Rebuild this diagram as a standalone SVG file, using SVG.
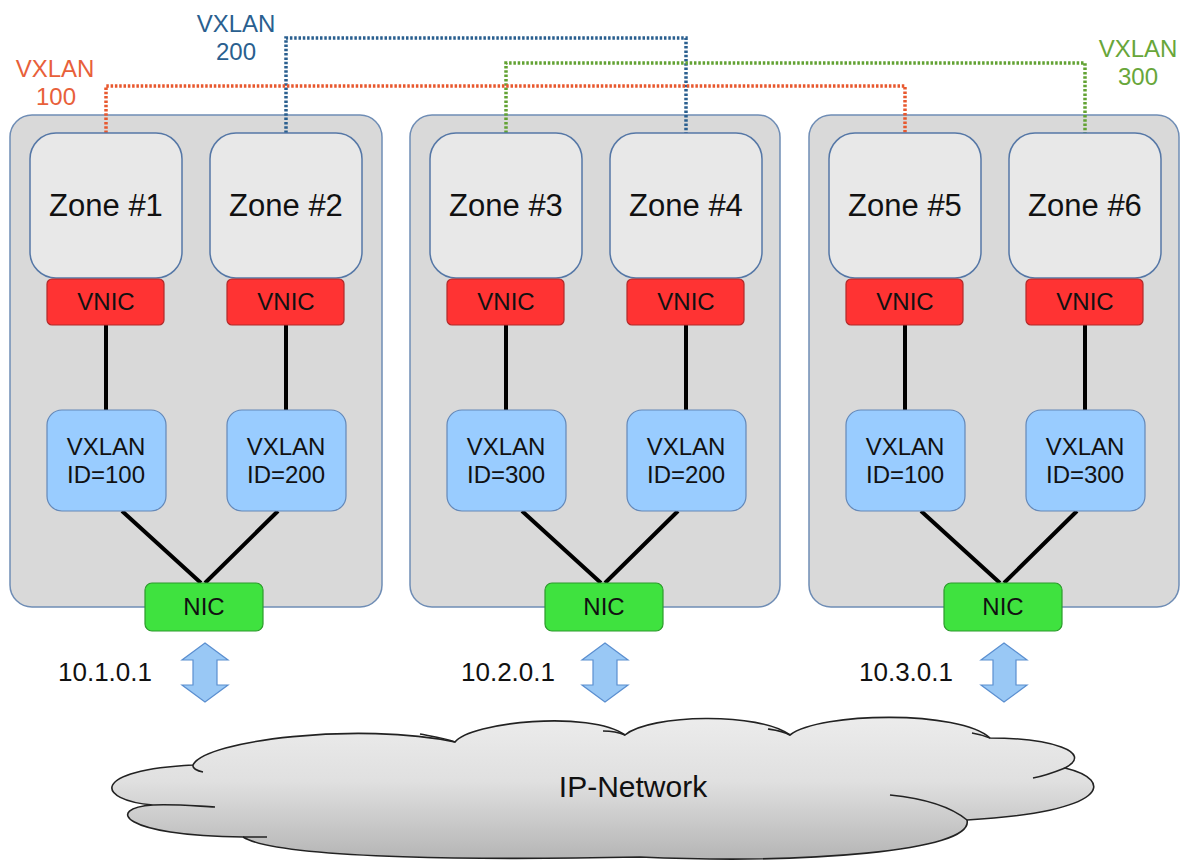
<svg xmlns="http://www.w3.org/2000/svg" width="1185" height="862" viewBox="0 0 1185 862">
<style>
text{font-family:"Liberation Sans",Arial,sans-serif;fill:#111;text-anchor:middle}
.host{fill:#d9d9d9;stroke:#6f8db5;stroke-width:1.5}
.zone{fill:#e8e8e8;stroke:#5577a6;stroke-width:1.5}
.vnic{fill:#ff3333;stroke:#b02a2a;stroke-width:1.2}
.vx{fill:#99ccff;stroke:#6488b8;stroke-width:1.2}
.nic{fill:#3fe23f;stroke:#2c9a2c;stroke-width:1.2}
.arr{fill:#99c8f5;stroke:#5b8fd0;stroke-width:1.2}
.wire{stroke:#000;stroke-width:4;fill:none}
.dot{fill:none;stroke-width:3.5;stroke-dasharray:2.5 1.8}
.zt{font-size:31px}
.bt{font-size:24px}
.ip{font-size:26px;text-anchor:start}
</style>
<defs>
<linearGradient id="cg" x1="0" y1="0" x2="0" y2="1">
<stop offset="0" stop-color="#ececec"/>
<stop offset="0.45" stop-color="#e0e0e0"/>
<stop offset="1" stop-color="#b5b5b5"/>
</linearGradient>
</defs>

<g id="host1">
<rect class="host" x="10" y="115" width="372" height="492" rx="22"/>
</g>
<g id="host2">
<rect class="host" x="410" y="115" width="370" height="492" rx="22"/>
</g>
<g id="host3">
<rect class="host" x="809" y="115" width="370" height="492" rx="22"/>
</g>

<g id="connectors">
<path class="wire" d="M106,325V410M286,325V410M506,325V410M686,325V410M905,325V410M1085,325V410"/>
<path class="wire" d="M122,511L201,583M278,511L205,583M522,511L601,583M678,511L605,583M921,511L1000,583M1077,511L1004,583"/>
<path class="dot" stroke="#2a5f8f" d="M286,133V38H686V133"/>
<path class="dot" stroke="#62a233" d="M506,133V63H1085V133"/>
<path class="dot" stroke="#e8582e" d="M106,133V86H905V133"/>
</g>

<g id="zone1"><rect class="zone" x="30" y="133" width="152" height="145" rx="26"/><text class="zt" x="106" y="216">Zone #1</text></g>
<g id="zone2"><rect class="zone" x="210" y="133" width="152" height="145" rx="26"/><text class="zt" x="286" y="216">Zone #2</text></g>
<g id="zone3"><rect class="zone" x="430" y="133" width="152" height="145" rx="26"/><text class="zt" x="506" y="216">Zone #3</text></g>
<g id="zone4"><rect class="zone" x="610" y="133" width="152" height="145" rx="26"/><text class="zt" x="686" y="216">Zone #4</text></g>
<g id="zone5"><rect class="zone" x="829" y="133" width="152" height="145" rx="26"/><text class="zt" x="905" y="216">Zone #5</text></g>
<g id="zone6"><rect class="zone" x="1009" y="133" width="152" height="145" rx="26"/><text class="zt" x="1085" y="216">Zone #6</text></g>

<g id="vnic1"><rect class="vnic" x="47" y="279" width="117" height="46" rx="5"/><text class="bt" x="106" y="310">VNIC</text></g>
<g id="vnic2"><rect class="vnic" x="227" y="279" width="117" height="46" rx="5"/><text class="bt" x="286" y="310">VNIC</text></g>
<g id="vnic3"><rect class="vnic" x="447" y="279" width="117" height="46" rx="5"/><text class="bt" x="506" y="310">VNIC</text></g>
<g id="vnic4"><rect class="vnic" x="627" y="279" width="117" height="46" rx="5"/><text class="bt" x="686" y="310">VNIC</text></g>
<g id="vnic5"><rect class="vnic" x="846" y="279" width="117" height="46" rx="5"/><text class="bt" x="905" y="310">VNIC</text></g>
<g id="vnic6"><rect class="vnic" x="1026" y="279" width="117" height="46" rx="5"/><text class="bt" x="1085" y="310">VNIC</text></g>

<g id="vx1"><rect class="vx" x="47" y="410" width="119" height="101" rx="15"/><text class="bt" x="106" y="455">VXLAN</text><text class="bt" x="106" y="483">ID=100</text></g>
<g id="vx2"><rect class="vx" x="227" y="410" width="119" height="101" rx="15"/><text class="bt" x="286" y="455">VXLAN</text><text class="bt" x="286" y="483">ID=200</text></g>
<g id="vx3"><rect class="vx" x="447" y="410" width="119" height="101" rx="15"/><text class="bt" x="506" y="455">VXLAN</text><text class="bt" x="506" y="483">ID=300</text></g>
<g id="vx4"><rect class="vx" x="627" y="410" width="119" height="101" rx="15"/><text class="bt" x="686" y="455">VXLAN</text><text class="bt" x="686" y="483">ID=200</text></g>
<g id="vx5"><rect class="vx" x="846" y="410" width="119" height="101" rx="15"/><text class="bt" x="905" y="455">VXLAN</text><text class="bt" x="905" y="483">ID=100</text></g>
<g id="vx6"><rect class="vx" x="1026" y="410" width="119" height="101" rx="15"/><text class="bt" x="1085" y="455">VXLAN</text><text class="bt" x="1085" y="483">ID=300</text></g>

<g id="nic1"><rect class="nic" x="145" y="583" width="118" height="48" rx="7"/><text class="bt" x="204" y="615">NIC</text></g>
<g id="nic2"><rect class="nic" x="545" y="583" width="118" height="48" rx="7"/><text class="bt" x="604" y="615">NIC</text></g>
<g id="nic3"><rect class="nic" x="944" y="583" width="118" height="48" rx="7"/><text class="bt" x="1003" y="615">NIC</text></g>

<g id="link1"><polygon class="arr" points="205,643 228,660 217,660 217,685 228,685 205,702 182,685 193,685 193,660 182,660"/><text class="ip" x="58" y="681">10.1.0.1</text></g>
<g id="link2"><polygon class="arr" points="605,643 628,660 617,660 617,685 628,685 605,702 582,685 593,685 593,660 582,660"/><text class="ip" x="461" y="681">10.2.0.1</text></g>
<g id="link3"><polygon class="arr" points="1004,643 1027,660 1016,660 1016,685 1027,685 1004,702 981,685 993,685 993,660 981,660"/><text class="ip" x="859" y="681">10.3.0.1</text></g>

<g id="cloud">
<path fill="url(#cg)" stroke="#222" stroke-width="1.6" d="M193,765 C205,740 360,722 455,742 C470,722 590,710 625,735 C650,714 760,712 790,735 C820,712 960,710 990,738 C1050,738 1095,752 1065,768 C1115,780 1110,812 967,820 C975,852 800,864 640,857 C500,860 280,860 243,837 C120,836 105,808 153,805 C95,800 90,770 193,765 Z"/>
<path fill="none" stroke="#222" stroke-width="1.6" d="M193,765C192,768 197,771 203,772M153,805C175,804 195,806 215,807M243,837L267,837M455,742C445,738 430,736 420,734M625,735C618,732 610,731 603,731M790,735C783,731 775,730 768,729M990,738C985,736 978,734 972,733M1065,768C1055,772 1045,776 1033,778M967,820C950,806 920,798 890,795"/>
<text x="633" y="797" style="font-size:30px">IP-Network</text>
</g>

<g id="labels">
<text class="bt" x="55" y="77" style="fill:#e8603a">VXLAN</text>
<text class="bt" x="56" y="105" style="fill:#e8603a">100</text>
<text class="bt" x="236" y="32" style="fill:#2a5f8f">VXLAN</text>
<text class="bt" x="236" y="60" style="fill:#2a5f8f">200</text>
<text class="bt" x="1138" y="57" style="fill:#68a63a">VXLAN</text>
<text class="bt" x="1138" y="85" style="fill:#68a63a">300</text>
</g>
</svg>
